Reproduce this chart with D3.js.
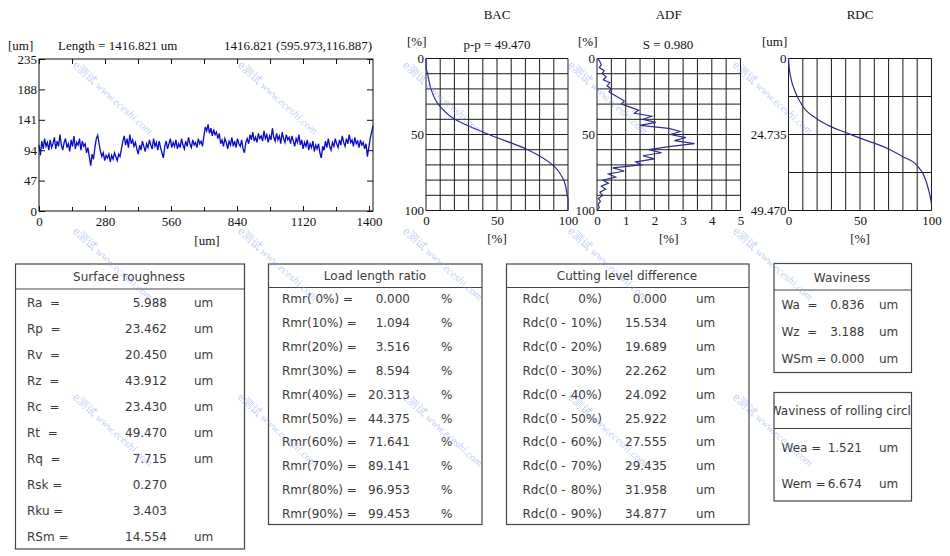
<!DOCTYPE html>
<html>
<head>
<meta charset="utf-8">
<script src="https://cdn.jsdelivr.net/npm/d3@7"></script>
<style>
body { margin: 0; background: #fff; }
svg { display: block; }
.serif { font-family: "Liberation Serif", "Times New Roman", serif; font-size: 13px; fill: #111; }
.axis text { font-family: "Liberation Serif", "Times New Roman", serif; font-size: 13px; fill: #111; }
.axis path { display: none; }
.axis line { stroke: #111; }
.tbl { font-family: "DejaVu Sans", Verdana, sans-serif; font-size: 12px; fill: #3a3a3a; white-space: pre; }
</style>
</head>
<body>
<script>
// ---- profile ----
var profileLength = 1416.821;
var profileValues = [
  102, 86, 108, 96, 112, 100, 106, 94, 110, 98,
  104, 114, 96, 108, 100, 118, 102, 94, 106, 112,
  98, 104, 92, 110, 100, 116, 96, 106, 102, 112,
  94, 108, 100, 104, 90, 98, 84, 70, 88, 80,
  98, 112, 117, 104, 92, 84, 90, 78, 86, 82,
  88, 76, 86, 80, 90, 84, 78, 88, 84, 96,
  108, 116, 102, 112, 98, 118, 104, 110, 100, 106,
  96, 88, 102, 94, 108, 100, 92, 104, 98, 110,
  102, 96, 112, 100, 106, 94, 108, 98, 90, 82,
  100, 108, 96, 104, 112, 98, 106, 100, 110, 96,
  104, 98, 112, 102, 96, 108, 100, 114, 104, 98,
  110, 102, 106, 98, 112, 104, 108, 100, 116, 130,
  124, 134, 120, 128, 116, 126, 118, 122, 112, 120,
  104, 110, 100, 112, 106, 96, 108, 102, 114, 100,
  108, 98, 112, 104, 100, 110, 96, 90, 106, 112,
  104, 118, 110, 122, 108, 114, 106, 120, 112, 116,
  108, 124, 112, 118, 106, 116, 110, 128, 114, 108,
  120, 110, 116, 104, 122, 112, 106, 118, 110, 114,
  104, 116, 108, 100, 112, 106, 118, 102, 110, 96,
  106, 100, 110, 94, 104, 98, 108, 92, 102, 96,
  104, 90, 82, 100, 94, 108, 98, 112, 100, 94,
  106, 100, 112, 104, 98, 110, 102, 116, 106, 100,
  112, 104, 118, 106, 110, 100, 114, 104, 108, 98,
  110, 102, 106, 96, 104, 84, 98, 112, 122, 132
];
var profileXTicks = [0, 280, 560, 840, 1120, 1400];
var profileXMinor = [140, 420, 700, 980, 1260];
var profileYTicks = [0, 47, 94, 141, 188, 235];

// ---- bearing area curve (depth % -> ratio %) ----
var bacDepth = [0, 6, 10, 20, 30, 40, 50, 60, 70, 80, 90, 93, 100];
var bacRatio = [0, 0.1, 1.094, 3.516, 8.594, 20.313, 44.375, 71.641, 89.141, 96.953, 99.453, 100, 100];

// ---- amplitude distribution (depth % -> %) ----
var adfDepth = [0, 2, 4, 6, 8, 10, 12, 14, 16, 18, 20, 22, 24, 26, 28, 30, 32, 34, 36, 38, 40,
  42, 44, 46, 48, 50, 52, 54, 56, 58, 60, 62, 64, 66, 68, 70, 72, 74, 76, 78, 80,
  82, 84, 86, 88, 90, 92, 94, 96, 98, 100];
var adfValues = [0.02, 0.1, 0.15, 0.08, 0.25, 0.18, 0.32, 0.22, 0.45, 0.35, 0.5,
  0.42, 0.6, 0.78, 0.95, 0.85, 1.15, 1.45, 1.3, 1.9, 1.6,
  2.05, 1.5, 2.5, 2.9, 2.55, 3.1, 2.7, 3.4, 2.5, 1.8,
  2.25, 1.6, 2.0, 1.35, 1.55, 0.55, 0.95, 0.4, 0.65, 0.2,
  0.4, 0.15, 0.3, 0.1, 0.2, 0.05, 0.12, 0.04, 0.08, 0];

// ---- cutting depth curve (ratio % -> um) ----
var rdcMax = 49.470;
var rdcCurveRatio = [0, 0.5, 1.5, 4, 10, 20, 30, 40, 50, 60, 70, 80, 90, 95, 98, 99.5, 100];
var rdcCurveDepth = [0, 3, 6, 10, 15.534, 19.689, 22.262, 24.092, 25.922, 27.555, 29.435, 31.958, 34.877, 38.4, 42.8, 46, 47.6];

// ---- tables ----
var srLabels = ["Ra  =", "Rp  =", "Rv  =", "Rz  =", "Rc  =", "Rt  =", "Rq  =", "Rsk =", "Rku =", "RSm ="];
var srValues = [5.988, 23.462, 20.450, 43.912, 23.430, 49.470, 7.715, 0.270, 3.403, 14.554];
var srUnits = ["um", "um", "um", "um", "um", "um", "um", "", "", "um"];

var rmrLevels = [0, 10, 20, 30, 40, 50, 60, 70, 80, 90];
var rmrValues = [0.000, 1.094, 3.516, 8.594, 20.313, 44.375, 71.641, 89.141, 96.953, 99.453];

var rdcLevels = [0, 10, 20, 30, 40, 50, 60, 70, 80, 90];
var rdcValues = [0.000, 15.534, 19.689, 22.262, 24.092, 25.922, 27.555, 29.435, 31.958, 34.877];

var wavLabels = ["Wa  =", "Wz  =", "WSm ="];
var wavValues = [0.836, 3.188, 0.000];

var rollLabels = ["Wea =", "Wem ="];
var rollValues = [1.521, 6.674];

var fmt = d3.format(".3f");

var svg = d3.select("body").append("svg")
  .attr("width", 950)
  .attr("height", 556);

// ================= profile chart =================
var px = d3.scaleLinear().domain([0, profileLength]).range([39, 373]);
var py = d3.scaleLinear().domain([0, 235]).range([211, 59]);
var step = profileLength / (profileValues.length - 1);

var prof = svg.append("g");
prof.append("path")
  .datum(profileValues)
  .attr("fill", "none")
  .attr("stroke", "#0808dc")
  .attr("stroke-width", 1.3)
  .attr("d", d3.line().x((d, i) => px(i * step)).y(d => py(d)));

prof.append("rect")
  .attr("x", 39).attr("y", 59).attr("width", 334).attr("height", 152)
  .attr("fill", "none").attr("stroke", "#111");

prof.append("g").attr("class", "axis")
  .attr("transform", "translate(0,211)")
  .call(d3.axisBottom(px).tickValues(profileXTicks).tickSizeInner(-5).tickSizeOuter(0)
    .tickPadding(6).tickFormat(d3.format("d")));
prof.append("g").attr("class", "axis")
  .attr("transform", "translate(0,211)")
  .call(d3.axisBottom(px).tickValues(profileXMinor).tickSize(-4).tickFormat(""));
prof.append("g").attr("class", "axis")
  .attr("transform", "translate(0,59)")
  .call(d3.axisTop(px).tickValues(profileXTicks.concat(profileXMinor)).tickSize(-5).tickFormat(""));
prof.append("g").attr("class", "axis")
  .attr("transform", "translate(39,0)")
  .call(d3.axisLeft(py).tickValues(profileYTicks).tickSizeInner(-6).tickSizeOuter(0).tickPadding(2));
prof.append("g").attr("class", "axis")
  .attr("transform", "translate(373,0)")
  .call(d3.axisRight(py).tickValues(profileYTicks).tickSize(-6).tickFormat(""));

prof.append("text").attr("class", "serif").attr("x", 8).attr("y", 50).text("[um]");
prof.append("text").attr("class", "serif").attr("x", 58).attr("y", 50).text("Length = 1416.821 um");
prof.append("text").attr("class", "serif").attr("x", 372).attr("y", 50)
  .attr("text-anchor", "end").text("1416.821 (595.973,116.887)");
prof.append("text").attr("class", "serif").attr("x", 207).attr("y", 245)
  .attr("text-anchor", "middle").text("[um]");

// ================= small grid charts =================
function gridChart(o) {
  var g = svg.append("g");
  var x = d3.scaleLinear().domain(o.xDomain).range([o.left, o.right]);
  var y = d3.scaleLinear().domain(o.yDomain).range([o.top, o.bottom]);

  g.selectAll(".vg").data(o.xGrid).enter().append("line")
    .attr("x1", d => x(d)).attr("x2", d => x(d))
    .attr("y1", o.top).attr("y2", o.bottom)
    .attr("stroke", "#1a1a1a").attr("stroke-width", 1);
  g.selectAll(".hg").data(o.yGrid).enter().append("line")
    .attr("y1", d => y(d)).attr("y2", d => y(d))
    .attr("x1", o.left).attr("x2", o.right)
    .attr("stroke", "#1a1a1a").attr("stroke-width", 1);

  g.append("path")
    .datum(d3.range(o.xs.length))
    .attr("fill", "none")
    .attr("stroke", "#2d2d94")
    .attr("stroke-width", 1.2)
    .attr("d", d3.line().curve(o.curve).x(i => x(o.xs[i])).y(i => y(o.ys[i])));

  g.append("g").attr("class", "axis")
    .attr("transform", "translate(0," + o.bottom + ")")
    .call(d3.axisBottom(x).tickValues(o.xTicks).tickSize(0).tickPadding(5).tickFormat(d3.format("d")));
  g.append("g").attr("class", "axis")
    .attr("transform", "translate(" + o.left + ",0)")
    .call(d3.axisLeft(y).tickValues(o.yTicks).tickSize(0).tickPadding(2).tickFormat(o.yFormat || d3.format("d")));

  var cx = (o.left + o.right) / 2;
  g.append("text").attr("class", "serif").attr("x", cx).attr("y", 19)
    .attr("text-anchor", "middle").text(o.title);
  g.append("text").attr("class", "serif").attr("x", o.unitX).attr("y", 46).text(o.unitY);
  if (o.note) {
    g.append("text").attr("class", "serif").attr("x", o.noteX).attr("y", 49)
      .attr("text-anchor", "middle").text(o.note);
  }
  g.append("text").attr("class", "serif").attr("x", cx).attr("y", 243)
    .attr("text-anchor", "middle").text("[%]");
}

gridChart({
  left: 426, right: 568, top: 58.5, bottom: 210.5,
  xDomain: [0, 100], yDomain: [0, 100],
  xGrid: d3.range(0, 101, 10), yGrid: d3.range(0, 101, 10),
  xs: bacRatio, ys: bacDepth, curve: d3.curveMonotoneY,
  xTicks: [0, 50, 100], yTicks: [0, 50, 100],
  title: "BAC", unitY: "[%]", unitX: 407, note: "p-p = 49.470", noteX: 497
});

gridChart({
  left: 597, right: 740.5, top: 58.5, bottom: 210.5,
  xDomain: [0, 5], yDomain: [0, 100],
  xGrid: d3.range(0, 5.01, 0.5), yGrid: d3.range(0, 101, 10),
  xs: adfValues, ys: adfDepth, curve: d3.curveLinear,
  xTicks: [0, 1, 2, 3, 4, 5], yTicks: [0, 50, 100],
  title: "ADF", unitY: "[%]", unitX: 578, note: "S = 0.980", noteX: 668
});

gridChart({
  left: 788.5, right: 931.5, top: 58.5, bottom: 210.5,
  xDomain: [0, 100], yDomain: [0, rdcMax],
  xGrid: d3.range(0, 101, 10), yGrid: [0, rdcMax / 4, rdcMax / 2, rdcMax * 3 / 4, rdcMax],
  xs: rdcCurveRatio, ys: rdcCurveDepth, curve: d3.curveMonotoneX,
  xTicks: [0, 50, 100], yTicks: [0, rdcMax / 2, rdcMax],
  yFormat: d => d === 0 ? "0" : fmt(d),
  title: "RDC", unitY: "[um]", unitX: 762
});

// ================= tables =================
var clipId = 0;
function tableBox(x0, y0, x1, y1, hy, title, titleX, titleY) {
  var g = svg.append("g");
  var id = "clip" + (clipId++);
  g.append("clipPath").attr("id", id)
    .append("rect").attr("x", x0).attr("y", y0).attr("width", x1 - x0).attr("height", y1 - y0);
  g.append("rect").attr("x", x0).attr("y", y0).attr("width", x1 - x0).attr("height", y1 - y0)
    .attr("fill", "#fff").attr("stroke", "#444").attr("stroke-width", 1.2);
  g.append("line").attr("x1", x0).attr("x2", x1).attr("y1", hy).attr("y2", hy)
    .attr("stroke", "#444").attr("stroke-width", 1.2);
  g.append("text").attr("class", "tbl").attr("clip-path", "url(#" + id + ")")
    .attr("x", titleX).attr("y", titleY).attr("text-anchor", "middle").text(title);
  return g;
}

function cells(g, texts, x, y0, dy, anchor) {
  g.selectAll(null).data(texts).enter().append("text")
    .attr("class", "tbl")
    .attr("xml:space", "preserve")
    .attr("x", x)
    .attr("y", (d, i) => y0 + i * dy)
    .attr("text-anchor", anchor || "start")
    .text(d => d);
}

// Surface roughness
var t1 = tableBox(15.5, 264, 244.5, 549, 289, "Surface roughness", 129, 281);
cells(t1, srLabels, 27, 307, 26);
cells(t1, srValues.map(fmt), 167, 307, 26, "end");
cells(t1, srUnits, 194, 307, 26);

// Load length ratio
var t2 = tableBox(268.5, 264, 482, 524.5, 287.5, "Load length ratio", 375, 280);
cells(t2, rmrLevels.map(l => "Rmr(" + (l < 10 ? " " : "") + l + "%) ="), 282, 303, 23.9);
cells(t2, rmrValues.map(fmt), 410, 303, 23.9, "end");
cells(t2, rmrLevels.map(() => "%"), 441, 303, 23.9);

// Cutting level difference
var t3 = tableBox(506.5, 264, 749, 524.5, 287.5, "Cutting level difference", 627, 280);
cells(t3, rdcLevels.map(l => l === 0 ? "Rdc(" : "Rdc(0 -"), 522.5, 303, 23.9);
cells(t3, rdcLevels.map(l => l + "%)"), 602, 303, 23.9, "end");
cells(t3, rdcValues.map(fmt), 667, 303, 23.9, "end");
cells(t3, rdcLevels.map(() => "um"), 696, 303, 23.9);

// Waviness
var t4 = tableBox(774, 263.5, 911.5, 372.5, 290, "Waviness", 842, 281.5);
cells(t4, wavLabels, 781.5, 308.5, 27.3);
cells(t4, wavValues.map(fmt), 864.5, 308.5, 27.3, "end");
cells(t4, wavLabels.map(() => "um"), 879, 308.5, 27.3);

// Waviness of rolling circle
var t5 = tableBox(774, 392.5, 911.5, 501, 428.5, "Waviness of rolling circle", 844, 415);
cells(t5, rollLabels, 781.5, 451.5, 36.4);
cells(t5, rollValues.map(fmt), 862, 451.5, 36.4, "end");
cells(t5, rollLabels.map(() => "um"), 879, 451.5, 36.4);

// ================= watermark =================
var wm = svg.append("g").attr("opacity", 0.5).style("pointer-events", "none");
for (var r = 0; r < 3; r++) {
  for (var c = 0; c < 5; c++) {
    var t = wm.append("text")
      .attr("transform", "translate(" + (72 + c * 165) + "," + (66 + r * 166) + ") rotate(42)")
      .attr("fill", "#7f9de6");
    t.append("tspan").style("font-family", "'Noto Sans CJK SC', sans-serif")
      .style("font-size", "11px").text("e测试");
    t.append("tspan").style("font-family", "'Liberation Serif', serif")
      .style("font-style", "italic").style("font-size", "11px").text(" www.eceshi.com");
  }
}
</script>
</body>
</html>
